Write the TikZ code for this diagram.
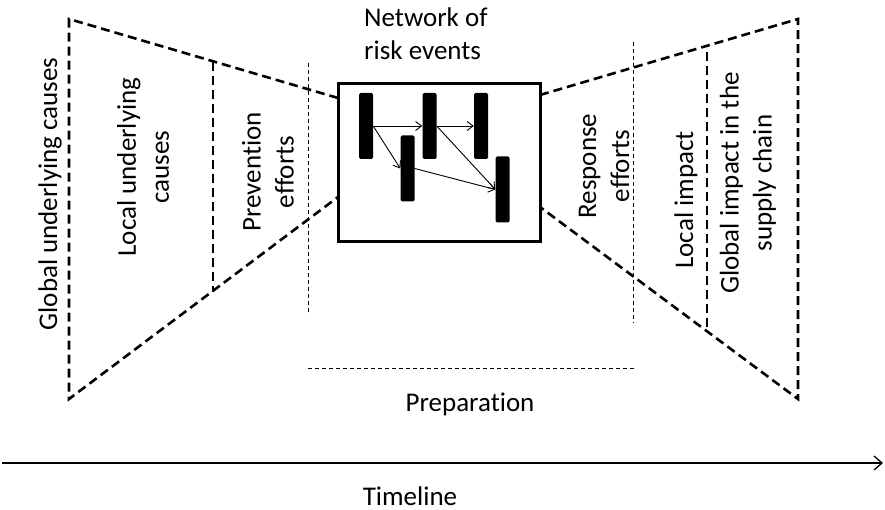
\documentclass[tikz,border=0pt]{standalone}
\usepackage{fontspec}
\setmainfont{Carlito}[Ligatures={NoCommon}]
\usetikzlibrary{arrows.meta}
\begin{document}
\begin{tikzpicture}[x=1pt,y=-1pt,
  bigdash/.style={line width=2.6pt,dash pattern=on 9pt off 5pt},
  thindash/.style={line width=0.8pt,dash pattern=on 4pt off 3pt},
  lbl/.style={font=\fontsize{27}{33}\selectfont,align=center,inner sep=0pt},
  vlbl/.style={lbl,rotate=90},
  bar/.style={fill=black,rounded corners=1.5pt,minimum width=14pt,minimum height=66pt,inner sep=0pt},
  flow/.style={line width=0.9pt,-{Straight Barb[length=6pt,width=9pt]}}]
\useasboundingbox (0,0) rectangle (885,510);
% central box
\node[draw,line width=3pt,minimum width=202pt,minimum height=158pt,inner sep=0pt] (net) at (439,163) {};
% left bow
\coordinate (ltl) at (69,19);
\coordinate (lbl) at (69,399);
\coordinate (lte) at (338,98);
\coordinate (lbe) at (338,197);
\draw[bigdash] (lte) -- (ltl) -- (lbl) -- (lbe);
\coordinate (lit) at (213,62);
\coordinate (lib) at (213,292);
\draw[bigdash] (lit) -- (lib);
% right bow
\coordinate (rtr) at (798,19);
\coordinate (rbr) at (798,399);
\coordinate (rte) at (540,95);
\coordinate (rbe) at (540,207);
\draw[bigdash] (rte) -- (rtr) -- (rbr) -- (rbe);
\coordinate (rit) at (707,52);
\coordinate (rib) at (707,327);
\draw[bigdash] (rit) -- (rib);
% thin dashed guides
\coordinate (pvt) at (308,63);
\coordinate (pvb) at (308,315);
\draw[thindash] (pvt) -- (pvb);
\coordinate (rst) at (633,42);
\coordinate (rsb) at (633,323);
\draw[thindash] (rst) -- (rsb);
\coordinate (prl) at (308,368);
\coordinate (prr) at (634,368);
\draw[thindash] (prl) -- (prr);
% bars
\node[bar] (b1) at (366,126) {};
\node[bar] (b2) at (429.5,126) {};
\node[bar] (b3) at (481,126) {};
\node[bar] (b4) at (407.5,168.5) {};
\node[bar] (b5) at (502.5,189.5) {};
\draw[flow] (b1.east) -- (b2.west);
\draw[flow] (b2.east) -- (b3.west);
\draw[flow] (b1.east) -- (b4.west);
\draw[flow] (b4.east) -- (b5.west);
\draw[flow] (b2.east) -- (b5.west);
% timeline
\coordinate (tls) at (2,463);
\coordinate (tle) at (883,463);
\draw[line width=1.3pt,-{Straight Barb[length=8pt,width=14pt]}] (tls) -- (tle);
% labels
\node[lbl,anchor=base west] (netl) at (364,27) {Network of};
\node[lbl,anchor=base west] (netl2) at (364,60) {risk events};
\node[lbl,anchor=base] (prep) at (470,411) {Preparation};
\node[lbl,anchor=base] (time) at (410,505) {Timeline};
\node[vlbl] (guc) at (50,194) {Global underlying causes};
\node[vlbl] (luc) at (143,167) {Local underlying\\causes};
\node[vlbl] (pe) at (268,172) {Prevention\\efforts};
\node[vlbl] (re) at (604,166) {Response\\efforts};
\node[vlbl] (li) at (686,200) {Local impact};
\node[vlbl] (gi) at (748,183) {Global impact in the\\supply chain};
\end{tikzpicture}
\end{document}
